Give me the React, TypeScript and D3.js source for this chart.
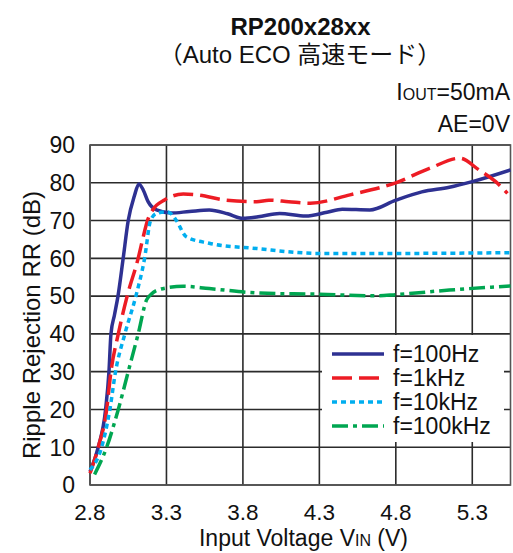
import React from "react";
import * as d3 from "d3";

const xTicks = [2.8, 3.3, 3.8, 4.3, 4.8, 5.3];
const yTicks = [0, 10, 20, 30, 40, 50, 60, 70, 80, 90];

const vin100Hz = [2.8, 2.854, 2.902, 2.924, 2.937, 2.96, 2.983, 3.017, 3.05, 3.09, 3.12, 3.148, 3.18, 3.235, 3.33, 3.45, 3.58, 3.7, 3.8, 3.9, 4.04, 4.21, 4.35, 4.45, 4.63, 4.8, 4.97, 5.15, 5.3, 5.55];
const rr100Hz = [3.5, 10, 20, 30, 40, 45, 50, 60, 70, 76.5, 79.7, 78.1, 75, 72.8, 72, 72.4, 72.8, 71.8, 70.6, 71, 71.9, 71.2, 72.2, 73, 72.8, 75.4, 77.6, 78.8, 80.3, 83.4];

const vin1kHz = [2.8, 2.854, 2.909, 2.937, 2.985, 3.043, 3.115, 3.15, 3.176, 3.21, 3.29, 3.41, 3.5, 3.69, 3.89, 3.97, 4.1, 4.24, 4.5, 4.8, 5.02, 5.218, 5.344, 5.453, 5.53];
const rr1kHz = [3.1, 10, 20, 30, 40, 50, 60, 66, 70, 72.8, 75.5, 77, 76.8, 75.4, 75, 75.4, 75, 74.6, 76.8, 80, 83.8, 86.5, 83.4, 80.3, 77.2];

const vin10kHz = [2.8, 2.876, 2.93, 2.967, 3.028, 3.1, 3.157, 3.196, 3.235, 3.3, 3.33, 3.365, 3.43, 3.58, 3.89, 4.3, 4.8, 5.55];
const rr10kHz = [4, 10, 20, 30, 40, 50, 60, 70, 71.9, 72.3, 71.8, 70, 65.7, 64, 62.6, 61.3, 61.3, 61.5];

const vin100kHz = [2.83, 2.909, 2.985, 3.05, 3.115, 3.17, 3.2, 3.257, 3.41, 3.58, 3.91, 4.3, 4.67, 4.8, 5.15, 5.55];
const rr100kHz = [2.8, 10, 20, 30, 40, 49, 50.5, 51.8, 52.6, 52, 50.8, 50.5, 50.1, 50.4, 51.6, 52.7];

const seriesLabels = ["f=100Hz", "f=1kHz", "f=10kHz", "f=100kHz"];

const FONT = "'Liberation Sans', Arial, 'Noto Sans CJK JP', sans-serif";

export default function App() {
  const left = 90, right = 510.5, top = 145, bottom = 485;
  const x = d3.scaleLinear().domain([2.8, 5.55]).range([left, right]);
  const y = d3.scaleLinear().domain([0, 90]).range([bottom, top]);
  const line = d3
    .line<[number, number]>()
    .x((d) => x(d[0]))
    .y((d) => y(d[1]))
    .curve(d3.curveMonotoneX);

  const series = [
    { xs: vin100Hz, ys: rr100Hz, color: "#2e3192", dash: "none" },
    { xs: vin1kHz, ys: rr1kHz, color: "#ed1c24", dash: "20 7" },
    { xs: vin10kHz, ys: rr10kHz, color: "#00aeef", dash: "5 4" },
    { xs: vin100kHz, ys: rr100kHz, color: "#00a651", dash: "16 5 4 5" },
  ];

  const grid = "#2b2b2b";
  const legendY = [354, 378, 402, 426];

  return (
    <svg
      width={513}
      height={553}
      style={{ position: "absolute", left: 0, top: 0, background: "#fff" }}
      fontFamily={FONT}
    >
      <rect x={0} y={0} width={513} height={553} fill="#fff" />
      <text x={300.5} y={35} textAnchor="middle" fontSize={24} fontWeight="bold" fill="#111">
        RP200x28xx
      </text>
      <text x={300} y={63} textAnchor="middle" fontSize={24} fill="#111">
        （Auto ECO 高速モード）
      </text>
      <text x={510} y={100} textAnchor="end" fontSize={23} fill="#111">
        I<tspan fontSize={16}>OUT</tspan>=50mA
      </text>
      <text x={510} y={132} textAnchor="end" fontSize={23} fill="#111">
        AE=0V
      </text>

      {/* grid */}
      {xTicks.map((t) => (
        <line key={"gx" + t} x1={x(t)} x2={x(t)} y1={top} y2={bottom} stroke={grid} strokeWidth={1.6} />
      ))}
      {yTicks.map((t) => (
        <line key={"gy" + t} x1={left} x2={right} y1={y(t)} y2={y(t)} stroke={grid} strokeWidth={1.6} />
      ))}
      <rect x={left} y={top} width={right - left} height={bottom - top} fill="none" stroke="#555" strokeWidth={1.6} />

      {/* tick labels */}
      {yTicks.map((t) => (
        <text key={"ty" + t} x={75} y={y(t)} dy="0.36em" textAnchor="end" fontSize={23} fill="#111">
          {t}
        </text>
      ))}
      {xTicks.map((t) => (
        <text key={"tx" + t} x={x(t)} y={520} textAnchor="middle" fontSize={22.5} fill="#111">
          {t.toFixed(1)}
        </text>
      ))}

      <text x={303.5} y={546} textAnchor="middle" fontSize={23} fill="#111">
        Input Voltage V<tspan fontSize={16}>IN</tspan> (V)
      </text>
      <text
        transform={`translate(31,${325}) rotate(-90)`}
        dy="0.36em"
        textAnchor="middle"
        fontSize={24}
        fill="#111"
      >
        Ripple Rejection RR (dB)
      </text>

      {/* curves */}
      <g>
        {series.map((s, i) => (
          <path
            key={"s" + i}
            d={line(s.xs.map((v, j) => [v, s.ys[j]] as [number, number])) || ""}
            fill="none"
            stroke={s.color}
            strokeWidth={3.5}
            strokeDasharray={s.dash}
          />
        ))}
      </g>

      {/* legend */}
      <rect x={322} y={335} width={182} height={107} fill="#fff" />
      {series.map((s, i) => (
        <g key={"lg" + i}>
          <line
            x1={332}
            x2={384}
            y1={legendY[i]}
            y2={legendY[i]}
            stroke={s.color}
            strokeWidth={3.5}
            strokeDasharray={s.dash}
          />
          <text x={393} y={legendY[i]} dy="0.36em" fontSize={23} fill="#111">
            {seriesLabels[i]}
          </text>
        </g>
      ))}
    </svg>
  );
}
